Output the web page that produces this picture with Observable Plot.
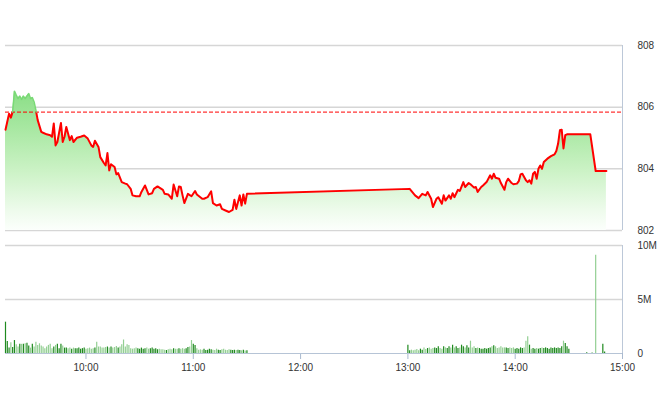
<!DOCTYPE html>
<html><head><meta charset="utf-8">
<script src="https://cdn.jsdelivr.net/npm/d3@7"></script>
<script src="https://cdn.jsdelivr.net/npm/@observablehq/plot@0.6"></script>
<style>
body{margin:0;background:#fff;}
#chart{position:relative;width:660px;height:412px;}
#top,#bottom{position:absolute;left:0;}
#top{top:0;} #bottom{top:240px;}
g[aria-label="x-axis"] .tick line, g[aria-label="x-axis tick"], g[aria-label="x-axis tick"] path {stroke:#a9b9cf !important;}
</style>
</head><body><div id="chart"><div id="top"></div><div id="bottom"></div></div>
<script>
// ---- data ----
const priceTimes = ["9:15","9:17","9:18","9:19","9:20","9:21","9:22","9:23","9:24","9:25","9:26","9:28","9:29","9:30","9:31","9:32","9:33","9:35","9:36","9:38","9:40","9:41","9:42","9:43","9:44","9:46","9:47","9:48","9:49","9:51","9:52","9:53","9:55","9:57","9:59","10:01","10:03","10:04","10:05","10:07","10:08","10:10","10:11","10:12","10:13","10:14","10:16","10:17","10:18","10:20","10:22","10:23","10:25","10:26","10:28","10:30","10:31","10:33","10:35","10:37","10:38","10:40","10:43","10:44","10:46","10:48","10:49","10:51","10:52","10:53","10:54","10:55","10:57","10:59","11:01","11:02","11:05","11:06","11:08","11:10","11:11","11:13","11:15","11:16","11:18","11:20","11:22","11:23","11:24","11:26","11:27","11:28","11:29","11:30","13:01","13:04","13:06","13:08","13:10","13:11","13:13","13:14","13:16","13:17","13:19","13:20","13:21","13:23","13:24","13:25","13:26","13:28","13:29","13:31","13:32","13:34","13:35","13:37","13:38","13:39","13:41","13:42","13:44","13:46","13:47","13:48","13:49","13:51","13:52","13:54","13:55","13:56","13:58","13:59","14:01","14:02","14:03","14:04","14:06","14:07","14:08","14:09","14:10","14:11","14:12","14:13","14:14","14:15","14:16","14:18","14:20","14:22","14:23","14:24","14:25","14:26","14:27","14:28","14:29","14:42","14:45","14:51"];
const priceValues = [805.27,805.79,805.66,805.85,806.52,806.39,806.28,806.36,806.25,806.36,806.28,806.44,806.28,806.31,806.17,805.90,805.58,805.20,805.17,805.12,805.09,805.04,805.47,804.76,804.87,805.49,804.87,805.04,805.36,804.93,805.06,804.87,805.01,805.04,805.08,804.98,804.76,804.71,804.91,804.71,804.38,804.19,804.11,804.51,803.95,804.15,804.06,803.82,803.86,803.57,803.52,803.50,803.35,803.14,803.11,803.11,803.25,803.46,803.17,803.21,803.35,803.43,803.32,803.19,803.17,803.03,803.49,803.11,803.43,803.41,803.14,802.89,803.19,803.11,803.28,803.17,803.03,803.03,803.08,803.27,802.89,802.81,802.85,802.70,802.65,802.60,802.67,803.00,802.70,803.14,802.81,803.17,802.87,803.19,803.35,803.14,803.05,803.19,803.14,803.25,803.03,802.76,803.03,803.08,802.87,803.14,802.97,803.14,803.03,803.21,803.08,803.32,803.28,803.57,803.41,803.54,803.50,803.39,803.41,803.25,803.41,803.46,803.57,803.79,803.68,803.84,803.71,803.68,803.54,803.32,803.57,803.68,803.54,803.50,803.52,803.60,803.82,803.84,803.63,803.57,803.63,803.52,803.84,803.90,803.68,804.00,804.11,804.00,804.22,804.33,804.41,804.47,804.58,804.82,805.25,805.27,804.66,805.09,805.12,805.12,803.93,803.93];
const refPrice = 805.84;
const priceTicks = [802, 804, 806, 808];

// volume in millions, one bar per minute
const volMorningStart = "9:15";
const volMorning = [2.9,1.1,0.5,1.0,0.55,1.2,0.8,0.6,0.85,0.85,
0.85,0.9,0.95,0.7,0.5,0.85,0.6,1.05,0.75,0.9,
0.7,0.6,0.45,0.6,0.75,0.85,0.45,0.6,0.75,0.85,
0.45,0.85,0.7,0.5,0.5,0.45,0.5,0.4,0.5,0.45,
0.45,0.5,0.4,0.45,0.5,0.4,0.45,0.5,0.4,0.45,
0.5,1.05,0.6,0.6,0.5,0.5,0.55,0.6,0.5,0.6,
0.5,0.55,0.65,0.5,0.6,0.8,1.25,0.6,0.8,0.75,
0.45,0.4,0.45,0.5,0.45,0.4,0.5,0.4,0.45,0.5,
0.4,0.45,0.5,0.4,0.45,0.35,0.4,0.35,0.34,0.3,
0.28,0.34,0.4,0.34,0.45,0.4,0.4,0.45,0.4,0.45,
0.4,0.45,0.55,0.6,1.2,0.85,0.75,0.45,0.3,0.34,
0.3,0.4,0.28,0.3,0.4,0.34,0.3,0.28,0.4,0.3,
0.28,0.34,0.4,0.3,0.28,0.34,0.3,0.28,0.3,0.28,
0.3,0.28,0.25,0.3,0.22,0.25];
const volAfternoonStart = "13:00";
const volAfternoon = [0.77,0.25,0.31,0.25,0.31,0.37,0.25,0.40,0.31,0.52,
0.37,0.46,0.52,0.40,0.46,0.52,0.46,0.62,0.46,0.40,
0.62,0.52,0.46,0.62,0.52,0.77,0.52,0.62,0.46,0.52,
0.77,0.62,0.52,0.71,0.52,1.14,0.52,0.62,0.46,0.52,
0.46,0.40,0.40,0.46,0.40,0.46,0.52,0.62,0.71,0.62,
0.46,0.52,0.62,0.52,0.52,0.52,0.46,0.52,0.46,0.52,
0.40,0.46,0.40,0.52,0.46,0.52,1.14,1.54,0.77,0.40,
0.46,0.40,0.46,0.40,0.46,0.52,0.46,0.52,0.46,0.40,
0.52,0.46,0.52,0.46,0.52,0.46,0.62,1.14,0.93,0.62,0.40];
const volExtraTimes = ["14:40","14:43","14:45","14:49","14:50"];
const volExtra = [0.08,0.1,9.1,0.85,0.15];
const volTicks = [0, 5, 10];
const hourTicks = ["10:00","11:00","12:00","13:00","14:00","15:00"];
const sessionStart = "9:15", sessionEnd = "15:00";

// ---- prep ----
const toMin = s => { const [h, m] = s.split(":").map(Number); return h * 60 + m; };
const fmt = m => `${Math.floor(m / 60)}:${String(m % 60).padStart(2, "0")}`;
const xDomain = [toMin(sessionStart), toMin(sessionEnd)];
const price = priceTimes.map((t, i) => ({t: toMin(t), v: priceValues[i]}));

// split line into runs above / below the reference
const segs = []; let run = 0;
price.forEach((p, i) => {
  const side = p.v > refPrice ? "up" : "down";
  if (i > 0) {
    const q = price[i - 1], qs = q.v > refPrice ? "up" : "down";
    if (qs !== side) {
      const f = (refPrice - q.v) / (p.v - q.v);
      const c = {t: q.t + f * (p.t - q.t), v: refPrice};
      segs.push({...c, run, side: qs}); run++;
      segs.push({...c, run, side});
    }
  }
  segs.push({...p, run, side});
});

const priceAt = t => {
  if (t <= price[0].t) return price[0].v;
  for (let i = 1; i < price.length; i++) {
    if (t <= price[i].t) { const a = price[i-1], b = price[i]; return a.v + (b.v - a.v) * (t - a.t) / (b.t - a.t); }
  }
  return price[price.length - 1].v;
};
const vol = [];
volMorning.forEach((v, i) => vol.push({t: toMin(volMorningStart) + i, v}));
volAfternoon.forEach((v, i) => vol.push({t: toMin(volAfternoonStart) + i, v}));
volExtraTimes.forEach((t, i) => vol.push({t: toMin(t), v: volExtra[i]}));
vol.forEach(d => { d.light = priceAt(d.t) < priceAt(d.t - 1) - 0.01; });

const style = {fontFamily: "'Liberation Sans', Arial, sans-serif", fontSize: "10px", color: "#333", background: "transparent", overflow: "visible"};

const gradientDefs = () => {
  const ns = "http://www.w3.org/2000/svg";
  const defs = document.createElementNS(ns, "defs");
  const g = document.createElementNS(ns, "linearGradient");
  g.setAttribute("id", "areaGrad"); g.setAttribute("x1", "0"); g.setAttribute("x2", "0"); g.setAttribute("y1", "0"); g.setAttribute("y2", "1");
  [[0, "#8ade86"], [0.28, "#a9e8a3"], [0.57, "#cbf2c5"], [0.86, "#eefbec"], [1, "#fcfffc"]].forEach(([o, c]) => {
    const s = document.createElementNS(ns, "stop");
    s.setAttribute("offset", o); s.setAttribute("stop-color", c); g.appendChild(s);
  });
  defs.appendChild(g); return defs;
};

const topChart = Plot.plot({
  width: 660, height: 240,
  marginLeft: 5, marginRight: 38, marginTop: 45, marginBottom: 10,
  style,
  x: {domain: xDomain, axis: null},
  y: {domain: [priceTicks[0], priceTicks[priceTicks.length - 1]], axis: "right", ticks: priceTicks, tickSize: 0, tickPadding: 15, tickFormat: d => String(d), label: null},
  marks: [
    gradientDefs,
    Plot.ruleY(priceTicks, {stroke: "#d6d6d6", strokeWidth: 1.5}),
    Plot.areaY(price, {x: "t", y1: () => priceTicks[0], y2: "v", fill: "url(#areaGrad)", curve: "linear"}),
    Plot.ruleY([refPrice], {stroke: "#ff0000", strokeWidth: 1, strokeDasharray: "4,2"}),
    Plot.line(segs.filter(d => d.side === "down"), {x: "t", y: "v", z: "run", stroke: "#ff0000", strokeWidth: 2}),
    Plot.line(segs.filter(d => d.side === "up"), {x: "t", y: "v", z: "run", stroke: "#79d975", strokeWidth: 1.5}),
    Plot.ruleX([xDomain[1]], {y1: () => priceTicks[0], y2: () => priceTicks[priceTicks.length - 1], stroke: "#bcc8d8", strokeWidth: 1})
  ]
});

const bottomChart = Plot.plot({
  width: 660, height: 172,
  marginLeft: 5, marginRight: 38, marginTop: 5, marginBottom: 59,
  style,
  x: {domain: xDomain, ticks: hourTicks.map(toMin), tickFormat: fmt, tickSize: 6, tickPadding: 4, label: null},
  y: {domain: [volTicks[0], volTicks[volTicks.length - 1]], axis: "right", ticks: volTicks, tickSize: 0, tickPadding: 15, tickFormat: d => d === 0 ? "0" : d + "M", label: null},
  marks: [
    Plot.ruleY(volTicks.slice(1), {stroke: "#d6d6d6", strokeWidth: 1.5}),
    Plot.ruleX(vol.filter(d => !d.light), {x: "t", y1: () => 0, y2: "v", stroke: "#1f8a1f", strokeWidth: 1.2}),
    Plot.ruleX(vol.filter(d => d.light), {x: "t", y1: () => 0, y2: "v", stroke: "#93cf93", strokeWidth: 1.2}),
    Plot.ruleY([volTicks[0]], {stroke: "#b6c4d6", strokeWidth: 1}),
    Plot.ruleX([xDomain[1]], {y1: () => volTicks[0], y2: () => volTicks[volTicks.length - 1], stroke: "#bcc8d8", strokeWidth: 1})
  ]
});

document.getElementById("top").appendChild(topChart);
document.getElementById("bottom").appendChild(bottomChart);
</script>
</body></html>
